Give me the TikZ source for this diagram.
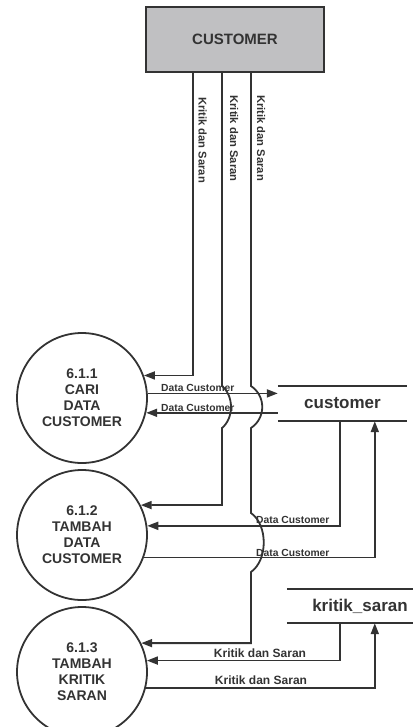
\documentclass[tikz,border=0pt]{standalone}
\usepackage{fontspec}
\setmainfont{Liberation Sans}
\usetikzlibrary{arrows.meta}
\definecolor{ink}{HTML}{333333}
\definecolor{boxgray}{HTML}{C0C0C2}
\begin{document}
\begin{tikzpicture}[x=1pt,y=-1pt,
  flow/.style={draw=ink, line width=1.8pt},
  tip/.style={-{Triangle[length=11pt,width=8pt]}},
  proc/.style={circle, draw=ink, line width=1.8pt, minimum size=130pt, inner sep=0pt,
    align=center, text=ink, font=\fontsize{14}{16}\selectfont\bfseries},
  entity/.style={draw=ink, fill=boxgray, line width=2.5pt, minimum width=178pt,
    minimum height=65pt, text=ink, font=\fontsize{15}{18}\selectfont\bfseries},
  store/.style={inner sep=0pt, text=ink, font=\fontsize{17}{20}\selectfont\bfseries},
  lbl/.style={text=ink, inner sep=0pt, font=\fontsize{10.3}{12}\selectfont\bfseries},
  klbl/.style={text=ink, inner sep=0pt, font=\fontsize{12}{14}\selectfont\bfseries},
  vlbl/.style={text=ink, inner sep=0pt, rotate=-90, font=\fontsize{11.2}{13}\selectfont\bfseries}
]
\useasboundingbox (0,0) rectangle (412,727);

% external entity
\node[entity] (cust) at (235,39.5) {CUSTOMER};
\coordinate (k1) at (193,72);
\coordinate (k2) at (222,72);
\coordinate (k3) at (251,72);

% processes
\node[proc] (p1) at (82,398) {6.1.1\\CARI\\DATA\\CUSTOMER};
\node[proc] (p2) at (82,535) {6.1.2\\TAMBAH\\DATA\\CUSTOMER};
\node[proc] (p3) at (82,672) {6.1.3\\TAMBAH\\KRITIK\\SARAN};

% data stores
\node[store, minimum width=129pt, minimum height=35pt] (s1) at (342.5,403.5) {customer};
\draw[flow] (s1.north west) -- (s1.north east) (s1.south west) -- (s1.south east);
\node[store, minimum width=146pt, minimum height=34pt] (s2) at (360,606) {kritik\_saran};
\draw[flow] (s2.north west) -- (s2.north east) (s2.south west) -- (s2.south east);

% Kritik dan Saran from the customer to each process
\draw[flow,tip] (k1) -- (k1 |- p1.20.7) -- (p1.20.7);
\draw[flow,tip] (k2) -- (222,386) .. controls (234,396) and (234,418) .. (222,428)
  -- (k2 |- p2.27.5) -- (p2.27.5);
\draw[flow,tip] (k3) -- (251,386) .. controls (266,396) and (266,418) .. (251,428)
  -- (251,513) .. controls (268,525) and (268,560) .. (251,572)
  -- (k3 |- p3.26.5) -- (p3.26.5);
\node[vlbl] (v1) at (202.5,140) {Kritik dan Saran};
\node[vlbl] (v2) at (234,138.5) {Kritik dan Saran};
\node[vlbl] (v3) at (261,138) {Kritik dan Saran};

% process 6.1.1 <-> customer
\draw[flow,tip] (p1.4.4) -- (s1.west |- p1.4.4);
\draw[flow,tip] (s1.west |- p1.-13.3) -- (p1.-13.3);
\node[lbl, anchor=base west] (d1) at (161,391) {Data Customer};
\node[lbl, anchor=base west] (d2) at (161,411) {Data Customer};

% process 6.1.2 <-> customer
\coordinate (s1a) at ([xshift=62pt]s1.south west);
\coordinate (s1b) at ([xshift=97pt]s1.south west);
\draw[flow,tip] (s1a) -- (s1a |- p2.8.8) -- (p2.8.8);
\draw[flow,tip] (p2.-20.7) -- (s1b |- p2.-20.7) -- (s1b);
\node[lbl, anchor=base west] (d3) at (256,523) {Data Customer};
\node[lbl, anchor=base west] (d4) at (256,556) {Data Customer};

% process 6.1.3 <-> kritik_saran
\coordinate (s2a) at ([xshift=53pt]s2.south west);
\coordinate (s2b) at ([xshift=88pt]s2.south west);
\draw[flow,tip] (s2a) -- (s2a |- p3.10.6) -- (p3.10.6);
\draw[flow,tip] (p3.-14.2) -- (s2b |- p3.-14.2) -- (s2b);
\node[klbl, anchor=base] (k4) at (260,657) {Kritik dan Saran};
\node[klbl, anchor=base] (k5) at (261,684) {Kritik dan Saran};
\end{tikzpicture}
\end{document}
